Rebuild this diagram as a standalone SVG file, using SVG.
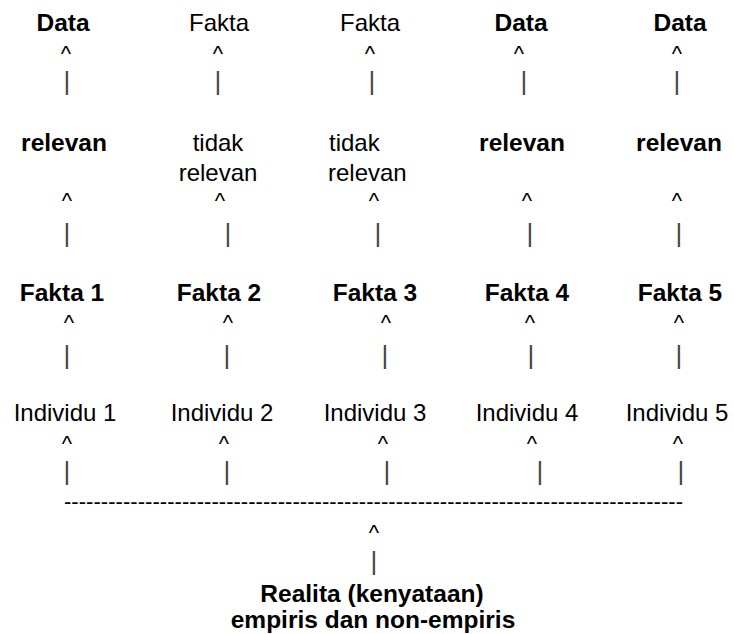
<svg xmlns="http://www.w3.org/2000/svg" width="734" height="634" viewBox="0 0 734 634">
<style>
text{font-family:"Liberation Sans",Arial,sans-serif;fill:#000;text-anchor:middle}
.r{font-size:24px}
.b{font-size:24.5px;font-weight:bold}
.c{font-size:22px}
.v{font-size:26px;fill:#444}
.d{font-size:22px;text-anchor:start}
.l{text-anchor:start}
</style>
<rect width="734" height="634" fill="#fff"/>
<g id="row-data">
<g id="data1"><text class="b" x="63" y="31">Data</text></g>
<g id="fakta-a2"><text class="r" x="219" y="31">Fakta</text></g>
<g id="fakta-a3"><text class="r" x="370" y="31">Fakta</text></g>
<g id="data4"><text class="b" x="521" y="31">Data</text></g>
<g id="data5"><text class="b" x="680" y="31">Data</text></g>
</g>
<g id="row-relevan">
<g id="relevan1"><text class="b" x="64" y="151">relevan</text></g>
<g id="tidak2"><text class="r" x="218" y="151">tidak</text><text class="r" x="218" y="181">relevan</text></g>
<g id="tidak3"><text class="r l" x="329" y="151">tidak</text><text class="r l" x="328" y="181">relevan</text></g>
<g id="relevan4"><text class="b" x="522" y="151">relevan</text></g>
<g id="relevan5"><text class="b" x="679" y="151">relevan</text></g>
</g>
<g id="row-fakta">
<g id="fakta1"><text class="b" x="62" y="301">Fakta 1</text></g>
<g id="fakta2"><text class="b" x="219" y="301">Fakta 2</text></g>
<g id="fakta3"><text class="b" x="375" y="301">Fakta 3</text></g>
<g id="fakta4"><text class="b" x="527" y="301">Fakta 4</text></g>
<g id="fakta5"><text class="b" x="680" y="301">Fakta 5</text></g>
</g>
<g id="row-individu">
<g id="individu1"><text class="r" x="65" y="421">Individu 1</text></g>
<g id="individu2"><text class="r" x="222" y="421">Individu 2</text></g>
<g id="individu3"><text class="r" x="375" y="421">Individu 3</text></g>
<g id="individu4"><text class="r" x="527" y="421">Individu 4</text></g>
<g id="individu5"><text class="r" x="677" y="421">Individu 5</text></g>
</g>
<g id="realita"><text class="b" x="372" y="602">Realita (kenyataan)</text><text class="b" x="373" y="628">empiris dan non-empiris</text></g>
<g id="connectors">
<g id="carets">
<text class="c" x="66" y="61">^</text><text class="c" x="218" y="61">^</text><text class="c" x="370" y="61">^</text><text class="c" x="519" y="61">^</text><text class="c" x="677" y="61">^</text>
<text class="c" x="67" y="208">^</text><text class="c" x="220" y="208">^</text><text class="c" x="374" y="208">^</text><text class="c" x="527" y="208">^</text><text class="c" x="677" y="208">^</text>
<text class="c" x="69" y="330">^</text><text class="c" x="228" y="330">^</text><text class="c" x="386" y="330">^</text><text class="c" x="530" y="330">^</text><text class="c" x="679" y="330">^</text>
<text class="c" x="67" y="451">^</text><text class="c" x="224" y="451">^</text><text class="c" x="383" y="451">^</text><text class="c" x="532" y="451">^</text><text class="c" x="678" y="451">^</text>
<text class="c" x="374" y="540">^</text>
</g>
<g id="bars">
<text class="v" x="67" y="89.5">|</text><text class="v" x="218" y="89.5">|</text><text class="v" x="372" y="89.5">|</text><text class="v" x="524" y="89.5">|</text><text class="v" x="677" y="89.5">|</text>
<text class="v" x="67" y="241.5">|</text><text class="v" x="228" y="241.5">|</text><text class="v" x="378" y="241.5">|</text><text class="v" x="530" y="241.5">|</text><text class="v" x="679" y="241.5">|</text>
<text class="v" x="67" y="363.5">|</text><text class="v" x="227" y="363.5">|</text><text class="v" x="385" y="363.5">|</text><text class="v" x="531" y="363.5">|</text><text class="v" x="679" y="363.5">|</text>
<text class="v" x="67" y="480">|</text><text class="v" x="227" y="480">|</text><text class="v" x="387" y="480">|</text><text class="v" x="540" y="480">|</text><text class="v" x="681" y="480">|</text>
<text class="v" x="374" y="570">|</text>
</g>
<text class="d" x="64" y="509" textLength="619" lengthAdjust="spacing">------------------------------------------------------------------------------------</text>
</g>
</svg>
